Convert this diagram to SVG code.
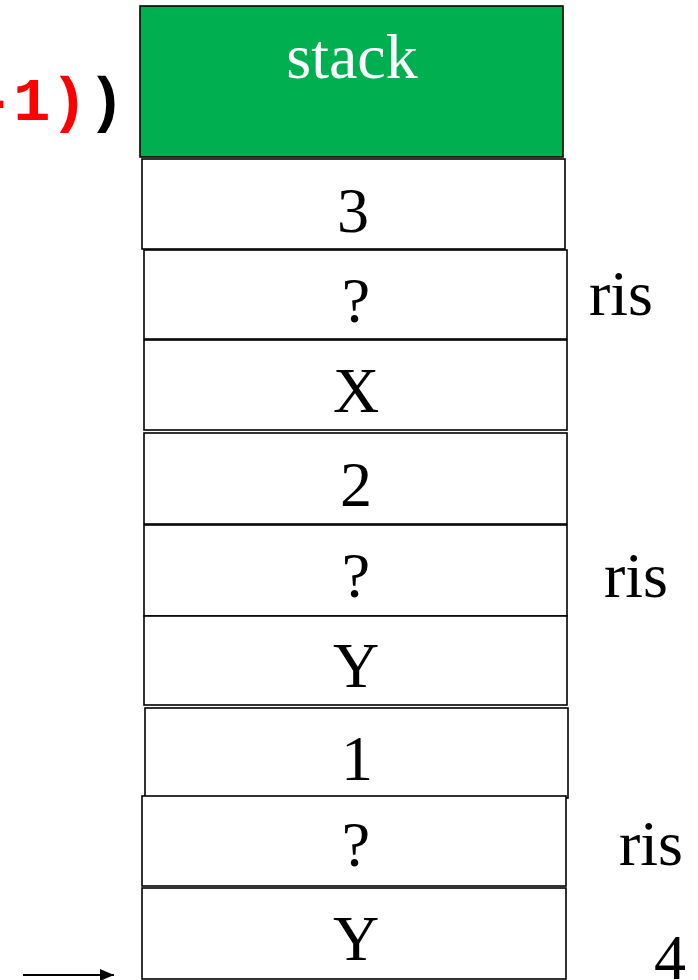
<svg xmlns="http://www.w3.org/2000/svg" width="698" height="980" viewBox="0 0 698 980">
<style>
.box{fill:#fff;stroke:#000;stroke-width:1.6}
.t{font-family:"Liberation Serif","Times New Roman",serif;font-size:64px;fill:#000;text-anchor:middle}
.lbl{font-family:"Liberation Serif","Times New Roman",serif;font-size:64px;fill:#000}
.code{font-family:"Liberation Mono","Courier New",monospace;font-size:62px;font-weight:bold}
</style>
<defs>
<marker id="ah" markerWidth="14" markerHeight="12" refX="14" refY="6" orient="auto" markerUnits="userSpaceOnUse" viewBox="0 0 14 12">
<path d="M0,0 L14,6 L0,12 z" fill="#000"/>
</marker>
</defs>
<rect width="698" height="980" fill="#fff"/>
<text class="code" x="-24" y="120"><tspan fill="#FF0000">-1)</tspan><tspan fill="#000">)</tspan></text>
<g id="stack"><rect x="140" y="6" width="423" height="151" fill="#00B050" stroke="#000" stroke-width="1.6"/><text class="t" x="352" y="78" style="fill:#fff">stack</text></g>
<g id="n3"><rect class="box" x="142" y="159" width="423" height="90"/><text class="t" x="353" y="232">3</text></g>
<g id="q1"><rect class="box" x="144" y="250" width="423" height="89"/><text class="t" x="356" y="322">?</text></g>
<g id="x"><rect class="box" x="144" y="340" width="423" height="90"/><text class="t" x="356" y="412">X</text></g>
<g id="n2"><rect class="box" x="144" y="433" width="423" height="91"/><text class="t" x="356" y="506">2</text></g>
<g id="q2"><rect class="box" x="144" y="525" width="423" height="91"/><text class="t" x="356" y="597">?</text></g>
<g id="y1"><rect class="box" x="144" y="616" width="423" height="89"/><text class="t" x="356" y="687">Y</text></g>
<g id="n1"><rect class="box" x="145" y="708" width="423" height="90"/><text class="t" x="357" y="780">1</text></g>
<g id="q3"><rect class="box" x="142" y="796" width="424" height="90"/><text class="t" x="356" y="866">?</text></g>
<g id="y2"><rect class="box" x="142" y="888" width="424" height="91"/><text class="t" x="356" y="960">Y</text></g>
<g id="labels">
<text class="lbl" x="589" y="315">ris</text>
<text class="lbl" x="604" y="597">ris</text>
<text class="lbl" x="619" y="865">ris</text>
<text class="lbl" x="654" y="979">4</text>
</g>
<g id="connectors">
<line x1="23" y1="975" x2="114" y2="975" stroke="#000" stroke-width="2" marker-end="url(#ah)"/>
</g>
</svg>
